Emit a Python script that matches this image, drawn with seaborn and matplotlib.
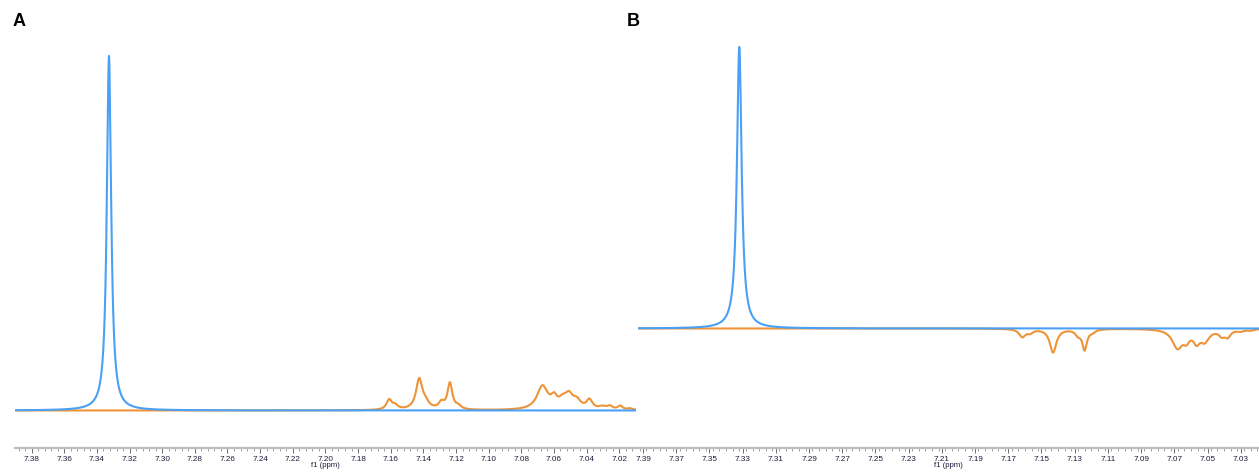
import numpy as np
import pandas as pd
import matplotlib
matplotlib.use("Agg")
import matplotlib.pyplot as plt
import seaborn as sns
from matplotlib.ticker import MultipleLocator, FixedLocator

# ---------------- data (peak lists) ----------------
# Panel A: reference singlet (blue) and sample multiplets (orange)
a_blue_ppm = [7.3326]
a_blue_int = [100.0]
a_blue_hw = [0.0016]

a_orange_ppm = [7.1609, 7.1572, 7.1425, 7.1385, 7.1289, 7.1237, 7.1185,
                7.0670, 7.0599, 7.0545, 7.0507, 7.0460, 7.0382, 7.0300,
                7.0256, 7.0194, 7.0133]
a_orange_int = [2.8, 1.1, 8.6, 1.4, 1.8, 7.4, 0.9,
                6.6, 2.6, 2.2, 3.4, 2.2, 2.6, 0.8,
                0.9, 1.1, 0.4]
a_orange_hw = [0.002, 0.002, 0.0024, 0.0025, 0.002, 0.0018, 0.002,
               0.004, 0.0022, 0.003, 0.0028, 0.003, 0.0022, 0.003,
               0.0018, 0.0018, 0.0018]

# Panel B: reference singlet (blue) and inverted multiplets (orange)
b_blue_ppm = [7.3320]
b_blue_int = [100.0]
b_blue_hw = [0.0017]

b_orange_ppm = [7.1615, 7.1568, 7.1430, 7.1280, 7.1240, 7.1193,
                7.0681, 7.0627, 7.0566, 7.0516, 7.0414, 7.0378, 7.0300, 7.0240]
b_orange_int = [-2.8, -1.2, -8.4, -1.8, -7.2, -0.9,
                -6.6, -3.0, -4.0, -4.0, -2.0, -2.5, -0.7, -0.5]
b_orange_hw = [0.0024, 0.002, 0.0024, 0.002, 0.0017, 0.002,
               0.0038, 0.0022, 0.0024, 0.0032, 0.0022, 0.0022, 0.0025, 0.0025]

a_major_ticks = [7.38, 7.36, 7.34, 7.32, 7.30, 7.28, 7.26, 7.24, 7.22, 7.20,
                 7.18, 7.16, 7.14, 7.12, 7.10, 7.08, 7.06, 7.04, 7.02]
b_major_ticks = [7.39, 7.37, 7.35, 7.33, 7.31, 7.29, 7.27, 7.25, 7.23, 7.21,
                 7.19, 7.17, 7.15, 7.13, 7.11, 7.09, 7.07, 7.05, 7.03]

BLUE = "#4aa0f4"
ORANGE = "#ee9438"


def spectrum(grid, ppm, inten, hw):
    y = np.zeros_like(grid)
    for p, h, w in zip(ppm, inten, hw):
        y += h * w ** 2 / ((grid - p) ** 2 + w ** 2)
    return y


sns.set_theme(style="white")
plt.rcParams["font.family"] = ["Liberation Sans", "DejaVu Sans"]

W, H = 1259, 472
fig = plt.figure(figsize=(W / 100, H / 100), dpi=100)


def px_axes(x0, x1, ytop, ybot):
    return fig.add_axes([x0 / W, 1 - ybot / H, (x1 - x0) / W, (ybot - ytop) / H])


panels = [
    dict(rect=(15, 636), xlim=(7.3902, 7.0097), ylim=(-10.58, 107.3),
         blue=(a_blue_ppm, a_blue_int, a_blue_hw),
         orange=(a_orange_ppm, a_orange_int, a_orange_hw),
         ticks=a_major_ticks, letter="A", lx=13),
    dict(rect=(638, 1259), xlim=(7.3930, 7.0190), ylim=(-42.45, 106.0),
         blue=(b_blue_ppm, b_blue_int, b_blue_hw),
         orange=(b_orange_ppm, b_orange_int, b_orange_hw),
         ticks=b_major_ticks, letter="B", lx=627),
]

for pnl in panels:
    ax = px_axes(pnl["rect"][0], pnl["rect"][1], 30, 448)
    grid = np.linspace(pnl["xlim"][1], pnl["xlim"][0], 6000)
    df = pd.DataFrame({
        "ppm": np.concatenate([grid, grid]),
        "intensity": np.concatenate([spectrum(grid, *pnl["orange"]),
                                     spectrum(grid, *pnl["blue"])]),
        "trace": ["sample"] * len(grid) + ["reference"] * len(grid),
    })
    sns.lineplot(data=df, x="ppm", y="intensity", hue="trace",
                 hue_order=["sample", "reference"],
                 palette={"sample": ORANGE, "reference": BLUE},
                 estimator=None, sort=False, linewidth=1.5, legend=False, ax=ax)
    ax.set_xlim(*pnl["xlim"])
    ax.set_ylim(*pnl["ylim"])
    for s in ["top", "left", "right"]:
        ax.spines[s].set_visible(False)
    ax.spines["bottom"].set_color("#bdbdbd")
    ax.spines["bottom"].set_linewidth(1.6)
    ax.set_yticks([])
    ax.set_ylabel("")
    ax.xaxis.set_major_locator(FixedLocator(pnl["ticks"]))
    ax.xaxis.set_minor_locator(MultipleLocator(0.004))
    ax.set_xticklabels([f"{t:.2f}" for t in pnl["ticks"]])
    ax.tick_params(axis="x", which="major", direction="out", length=3.5,
                   width=0.6, color="#555555", labelsize=5.9,
                   labelcolor="#1c1c3a", pad=2, bottom=True)
    ax.tick_params(axis="x", which="minor", direction="out", length=2,
                   width=0.5, color="#777777", bottom=True)
    ax.set_xlabel("f1 (ppm)", fontsize=5.6, color="#1c1c3a")
    ax.xaxis.set_label_coords(0.5, -0.0325)
    ax.xaxis.label.set_va("top")
    fig.text(pnl["lx"] / W, 1 - 22 / H, pnl["letter"], fontsize=13,
             fontweight="bold", ha="left", va="center", color="black")

fig.savefig("out.png", dpi=100)
